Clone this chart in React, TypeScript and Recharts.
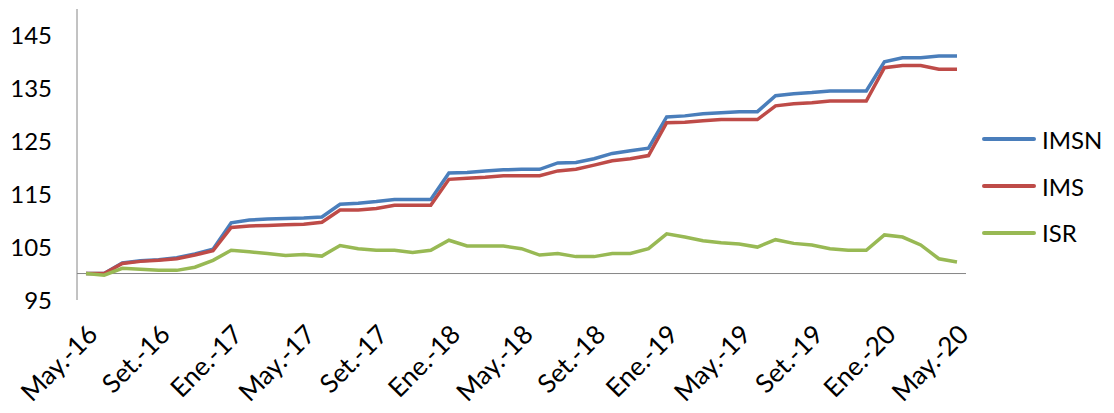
import React from 'react';
import { LineChart, Line, XAxis, YAxis, ReferenceLine, Legend } from 'recharts';

const FONT = 'Lato, "Open Sans", "Liberation Sans", sans-serif';

const months = [
  'May.-16', 'Jun.-16', 'Jul.-16', 'Ago.-16', 'Set.-16', 'Oct.-16', 'Nov.-16', 'Dic.-16',
  'Ene.-17', 'Feb.-17', 'Mar.-17', 'Abr.-17', 'May.-17', 'Jun.-17', 'Jul.-17', 'Ago.-17',
  'Set.-17', 'Oct.-17', 'Nov.-17', 'Dic.-17', 'Ene.-18', 'Feb.-18', 'Mar.-18', 'Abr.-18',
  'May.-18', 'Jun.-18', 'Jul.-18', 'Ago.-18', 'Set.-18', 'Oct.-18', 'Nov.-18', 'Dic.-18',
  'Ene.-19', 'Feb.-19', 'Mar.-19', 'Abr.-19', 'May.-19', 'Jun.-19', 'Jul.-19', 'Ago.-19',
  'Set.-19', 'Oct.-19', 'Nov.-19', 'Dic.-19', 'Ene.-20', 'Feb.-20', 'Mar.-20', 'Abr.-20',
  'May.-20',
];

const imsn = [
  100.0, 100.0, 102.0, 102.4, 102.6, 103.0, 103.7, 104.6,
  109.6, 110.1, 110.3, 110.4, 110.5, 110.7, 113.1, 113.3,
  113.6, 114.0, 114.0, 114.0, 119.0, 119.1, 119.4, 119.6,
  119.7, 119.7, 120.9, 121.0, 121.7, 122.7, 123.2, 123.7,
  129.6, 129.8, 130.2, 130.4, 130.6, 130.6, 133.6, 134.0,
  134.2, 134.5, 134.5, 134.5, 140.0, 140.8, 140.8, 141.1,
  141.1,
];

const ims = [
  100.0, 100.0, 101.9, 102.3, 102.5, 102.8, 103.5, 104.3,
  108.7, 109.0, 109.1, 109.2, 109.3, 109.7, 112.0, 112.0,
  112.3, 112.9, 112.9, 112.9, 117.8, 118.0, 118.2, 118.5,
  118.5, 118.5, 119.4, 119.7, 120.5, 121.3, 121.7, 122.3,
  128.5, 128.6, 128.9, 129.1, 129.1, 129.1, 131.7, 132.1,
  132.3, 132.6, 132.6, 132.6, 138.9, 139.3, 139.3, 138.6,
  138.6,
];

const isr = [
  100.0, 99.7, 101.0, 100.8, 100.6, 100.6, 101.2, 102.5,
  104.4, 104.1, 103.8, 103.4, 103.6, 103.3, 105.3, 104.7,
  104.4, 104.4, 104.0, 104.4, 106.3, 105.2, 105.2, 105.2,
  104.7, 103.5, 103.8, 103.2, 103.2, 103.8, 103.8, 104.7,
  107.5, 106.9, 106.2, 105.8, 105.6, 105.0, 106.4, 105.7,
  105.4, 104.7, 104.4, 104.4, 107.3, 106.9, 105.4, 102.8,
  102.2,
];

const yTicks = [95, 105, 115, 125, 135, 145];

const series = [
  { key: 'IMSN', values: imsn, color: '#4a7ebb' },
  { key: 'IMS', values: ims, color: '#be4b48' },
  { key: 'ISR', values: isr, color: '#98b954' },
];

const data = months.map((m, i) => {
  const row: Record<string, string | number> = { month: m };
  series.forEach((s) => {
    row[s.key] = s.values[i];
  });
  return row;
});

const renderLegend = () => (
  <div style={{ fontFamily: FONT, fontSize: 24, color: '#000' }}>
    {series.map((s) => (
      <div
        key={s.key}
        style={{ display: 'flex', alignItems: 'center', height: 46.7 }}
      >
        <span
          style={{
            display: 'inline-block',
            width: 54,
            height: 4,
            background: s.color,
            borderRadius: 2,
            marginRight: 6,
          }}
        />
        <span>{s.key}</span>
      </div>
    ))}
  </div>
);

export default function App() {
  const yTickStyle = { fill: '#000', fontSize: 24, fontFamily: FONT };
  const xTickStyle = { fill: '#000', fontSize: 26, fontFamily: FONT };
  return (
    <div style={{ width: 1106, height: 405, position: 'relative' }}>
      <LineChart
        width={1106}
        height={405}
        data={data}
        margin={{ top: 1, right: 148, left: 0, bottom: 13 }}
      >
        <XAxis
          dataKey="month"
          interval={3}
          tickLine={false}
          axisLine={false}
          tickSize={0}
          tickMargin={23}
          angle={-45}
          textAnchor="end"
          height={100}
          padding={{ left: 9, right: 9 }}
          tick={xTickStyle}
        />
        <YAxis
          type="number"
          domain={[95, 150]}
          ticks={yTicks}
          width={69}
          tickLine={false}
          tickSize={0}
          tickMargin={25}
          axisLine={{ stroke: '#868686', strokeWidth: 1 }}
          tick={yTickStyle}
        />
        <ReferenceLine y={100} stroke="#868686" strokeWidth={1} />
        {series.map((s) => (
          <Line
            key={s.key}
            type="linear"
            dataKey={s.key}
            name={s.key}
            stroke={s.color}
            strokeWidth={3.5}
            dot={false}
            activeDot={false}
            isAnimationActive={false}
          />
        ))}
        <Legend
          layout="vertical"
          align="center"
          verticalAlign="middle"
          content={renderLegend}
          wrapperStyle={{ left: 974, top: 108, width: 132 }}
        />
      </LineChart>
    </div>
  );
}
